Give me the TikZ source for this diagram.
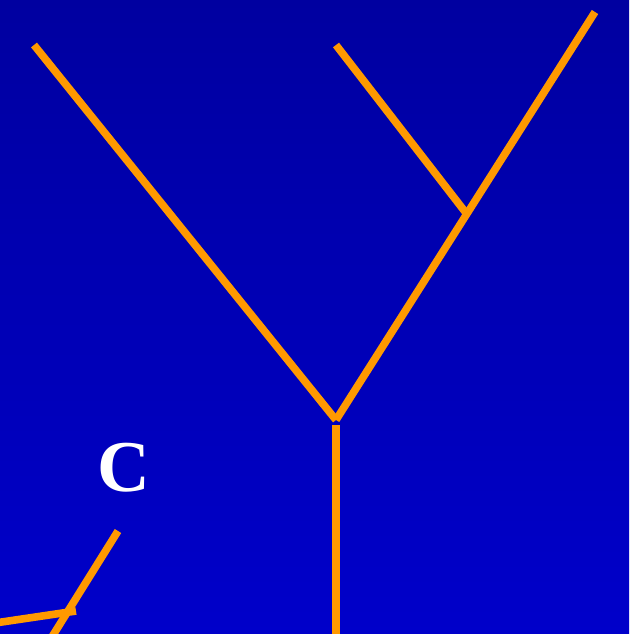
\documentclass[tikz,border=0pt]{standalone}
\usepackage{fontspec}
\setmainfont{Liberation Serif}
\definecolor{bgtop}{HTML}{0000A0}
\definecolor{bgbot}{HTML}{0000CA}
\definecolor{branch}{HTML}{FF9900}
\begin{document}
\begin{tikzpicture}[x=1pt,y=-1pt,
  limb/.style={draw=branch,line width=7.6pt,line cap=butt},
  lbl/.style={text=white,font=\bfseries\fontsize{73}{73}\selectfont,inner sep=0pt}]
\useasboundingbox (0,0) rectangle (629,634);
\shade[top color=bgtop,bottom color=bgbot] (0,0) rectangle (629,634);
\coordinate (l1) at (34,45);
\coordinate (j0) at (336,420);
\coordinate (r1) at (595,12);
\coordinate (m1) at (336,45);
\coordinate (j1) at (466,213);
\coordinate (s0) at (336,425);
\coordinate (s1) at (336,640);
\coordinate (c1) at (118,531);
\coordinate (c2) at (50,640);
\coordinate (d1) at (-5,623);
\coordinate (d2) at (76,611);
\node[lbl] (C) at (124,468) {C};
\draw[limb] (l1) -- (j0);
\draw[limb] (j0) -- (r1);
\draw[limb] (m1) -- (j1);
\draw[limb] (s0) -- (s1);
\draw[limb] (c1) -- (c2);
\draw[limb] (d1) -- (d2);
\end{tikzpicture}
\end{document}
